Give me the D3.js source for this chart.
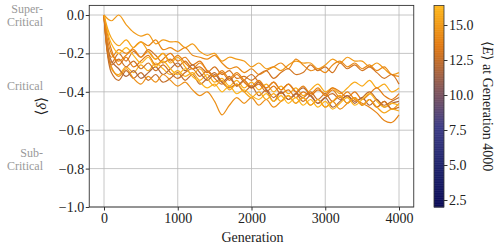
<!DOCTYPE html>
<html>
<head>
<meta charset="utf-8">
<script src="https://cdn.jsdelivr.net/npm/d3@7"></script>
<style>
  body { margin: 0; background: white; }
  text { font-family: "Liberation Serif", "DejaVu Serif", serif; }
</style>
</head>
<body>
<div id="chart"></div>
<script>
// Chart size
const width = 501;
const height = 250;

// generations sampled every 100
const generations = d3.range(0, 4001, 100);

// <delta> per run
const run1 = [0, -0.03, 0.0, -0.05, -0.09, -0.11, -0.10, -0.15, -0.13, -0.14, -0.14, -0.17, -0.15, -0.19, -0.21, -0.20, -0.24, -0.22, -0.23, -0.24, -0.27, -0.25, -0.28, -0.27, -0.29, -0.26, -0.24, -0.25, -0.25, -0.28, -0.26, -0.23, -0.25, -0.22, -0.24, -0.24, -0.27, -0.25, -0.28, -0.31, -0.30];
const run2 = [0, -0.22, -0.18, -0.20, -0.17, -0.14, -0.16, -0.13, -0.18, -0.17, -0.19, -0.17, -0.21, -0.22, -0.23, -0.21, -0.25, -0.28, -0.27, -0.30, -0.28, -0.31, -0.29, -0.27, -0.25, -0.28, -0.23, -0.26, -0.29, -0.28, -0.30, -0.26, -0.24, -0.27, -0.25, -0.28, -0.26, -0.29, -0.27, -0.31, -0.32];
const run3 = [0, -0.25, -0.20, -0.24, -0.19, -0.22, -0.18, -0.21, -0.25, -0.23, -0.27, -0.24, -0.28, -0.27, -0.30, -0.27, -0.31, -0.29, -0.33, -0.32, -0.34, -0.31, -0.29, -0.33, -0.30, -0.28, -0.31, -0.30, -0.26, -0.29, -0.27, -0.30, -0.25, -0.28, -0.26, -0.29, -0.27, -0.30, -0.33, -0.31, -0.36];
const run4 = [0, -0.28, -0.31, -0.27, -0.30, -0.26, -0.29, -0.25, -0.28, -0.31, -0.29, -0.32, -0.30, -0.34, -0.31, -0.35, -0.33, -0.37, -0.34, -0.38, -0.35, -0.39, -0.36, -0.40, -0.37, -0.41, -0.38, -0.42, -0.39, -0.36, -0.40, -0.38, -0.41, -0.38, -0.35, -0.37, -0.34, -0.38, -0.36, -0.40, -0.38];
const run5 = [0, -0.18, -0.26, -0.22, -0.27, -0.24, -0.21, -0.26, -0.23, -0.20, -0.24, -0.22, -0.26, -0.24, -0.29, -0.32, -0.30, -0.34, -0.31, -0.35, -0.38, -0.36, -0.40, -0.37, -0.41, -0.39, -0.43, -0.40, -0.42, -0.39, -0.41, -0.38, -0.40, -0.43, -0.40, -0.44, -0.41, -0.38, -0.42, -0.44, -0.41];
const run6 = [0, -0.30, -0.34, -0.29, -0.33, -0.30, -0.34, -0.31, -0.35, -0.33, -0.30, -0.34, -0.31, -0.36, -0.33, -0.30, -0.35, -0.38, -0.36, -0.40, -0.37, -0.42, -0.39, -0.43, -0.40, -0.44, -0.41, -0.45, -0.42, -0.46, -0.43, -0.41, -0.44, -0.42, -0.45, -0.43, -0.40, -0.44, -0.47, -0.45, -0.43];
const run7 = [0, -0.24, -0.28, -0.32, -0.29, -0.33, -0.30, -0.27, -0.31, -0.28, -0.25, -0.29, -0.26, -0.30, -0.34, -0.31, -0.35, -0.32, -0.37, -0.34, -0.38, -0.35, -0.39, -0.45, -0.40, -0.44, -0.41, -0.38, -0.42, -0.46, -0.43, -0.48, -0.45, -0.42, -0.46, -0.43, -0.47, -0.44, -0.48, -0.46, -0.45];
const run8 = [0, -0.27, -0.32, -0.28, -0.33, -0.36, -0.32, -0.35, -0.31, -0.34, -0.37, -0.35, -0.39, -0.42, -0.40, -0.45, -0.52, -0.47, -0.43, -0.46, -0.43, -0.47, -0.44, -0.48, -0.45, -0.42, -0.46, -0.43, -0.47, -0.44, -0.48, -0.45, -0.49, -0.46, -0.43, -0.47, -0.44, -0.48, -0.45, -0.49, -0.46];
const run9 = [0, -0.15, -0.20, -0.17, -0.21, -0.25, -0.22, -0.27, -0.24, -0.28, -0.31, -0.28, -0.32, -0.35, -0.38, -0.36, -0.40, -0.37, -0.41, -0.39, -0.42, -0.44, -0.41, -0.45, -0.42, -0.46, -0.43, -0.47, -0.44, -0.48, -0.45, -0.49, -0.46, -0.43, -0.47, -0.44, -0.41, -0.45, -0.48, -0.46, -0.47];
const run10 = [0, -0.26, -0.23, -0.27, -0.24, -0.28, -0.25, -0.29, -0.26, -0.30, -0.33, -0.30, -0.28, -0.32, -0.29, -0.33, -0.36, -0.33, -0.37, -0.34, -0.31, -0.35, -0.38, -0.35, -0.39, -0.36, -0.40, -0.43, -0.40, -0.44, -0.41, -0.45, -0.42, -0.46, -0.43, -0.47, -0.44, -0.48, -0.45, -0.49, -0.48];
const run11 = [0, -0.20, -0.24, -0.21, -0.18, -0.22, -0.19, -0.23, -0.20, -0.24, -0.21, -0.25, -0.28, -0.25, -0.29, -0.32, -0.29, -0.33, -0.30, -0.34, -0.37, -0.34, -0.38, -0.35, -0.39, -0.36, -0.40, -0.37, -0.41, -0.38, -0.42, -0.39, -0.43, -0.40, -0.44, -0.46, -0.48, -0.51, -0.55, -0.56, -0.52];
const run12 = [0, -0.12, -0.16, -0.13, -0.17, -0.14, -0.19, -0.23, -0.20, -0.25, -0.22, -0.27, -0.31, -0.28, -0.33, -0.37, -0.34, -0.39, -0.36, -0.40, -0.43, -0.40, -0.44, -0.41, -0.45, -0.42, -0.46, -0.43, -0.47, -0.44, -0.48, -0.45, -0.42, -0.46, -0.43, -0.47, -0.44, -0.48, -0.51, -0.49, -0.50];
const runs = [run1, run2, run3, run4, run5, run6, run7, run8, run9, run10, run11, run12];

// <E> at generation 4000, one per run (sets the colour)
const finalE = [15.0, 14.2, 13.0, 15.8, 13.5, 12.5, 11.8, 14.5, 16.2, 12.8, 14.0, 15.5];

// tick labels
const xTicks = [0, 1000, 2000, 3000, 4000];
const yTicks = [0.0, -0.2, -0.4, -0.6, -0.8, -1.0];
const cbTicks = [2.5, 5.0, 7.5, 10.0, 12.5, 15.0];
const regimeLabels = [
  { lines: ["Super-", "Critical"], at: 0.0 },
  { lines: ["Critical"], at: -0.37 },
  { lines: ["Sub-", "Critical"], at: -0.75 }
];

const margin = { left: 89.25, right: 413.75, top: 5.4, bottom: 207 };
const cbar = { left: 434, right: 444 };
const textColor = "#222";

// colormap: navy -> purple -> orange -> gold
const cmapDomain = [2.0, 16.4];
const colorStops = ["#0b0b58", "#1f246c", "#3e3d86", "#8a5a57", "#e27a14", "#ffb81c"];
const colorScale = d3.scaleLinear()
  .domain(d3.range(colorStops.length).map(i => cmapDomain[0] + i * (cmapDomain[1] - cmapDomain[0]) / (colorStops.length - 1)))
  .range(colorStops)
  .interpolate(d3.interpolateRgb);

const x = d3.scaleLinear().domain([-200, 4200]).range([margin.left, margin.right]);
const y = d3.scaleLinear().domain([-1.0, 0.05]).range([margin.bottom, margin.top]);
const cy = d3.scaleLinear().domain(cmapDomain).range([margin.bottom, margin.top]);

const svg = d3.select("#chart").append("svg").attr("width", width).attr("height", height);

// grid
const grid = svg.append("g").attr("stroke", "#b8b8b8").attr("stroke-width", 0.8);
xTicks.forEach(t => grid.append("line").attr("x1", x(t)).attr("x2", x(t)).attr("y1", margin.top).attr("y2", margin.bottom));
yTicks.forEach(t => grid.append("line").attr("x1", margin.left).attr("x2", margin.right).attr("y1", y(t)).attr("y2", y(t)));

// lines
const line = d3.line().x((d, i) => x(generations[i])).y(d => y(d)).curve(d3.curveCatmullRom.alpha(0.5));
svg.append("g").selectAll("path")
  .data(runs)
  .enter().append("path")
  .attr("d", line)
  .attr("fill", "none")
  .attr("stroke", (d, i) => colorScale(finalE[i]))
  .attr("stroke-width", 1.2)
  .attr("stroke-linejoin", "round");

// frame
svg.append("rect")
  .attr("x", margin.left).attr("y", margin.top)
  .attr("width", margin.right - margin.left).attr("height", margin.bottom - margin.top)
  .attr("fill", "none").attr("stroke", "#333").attr("stroke-width", 0.9);

const fmt = v => (v < 0 ? "\u2212" : "") + Math.abs(v).toFixed(1);

// x axis
const xAxis = svg.append("g")
  .attr("transform", `translate(0,${margin.bottom})`)
  .call(d3.axisBottom(x).tickValues(xTicks).tickSize(3.5).tickFormat(d3.format("d")));
xAxis.select(".domain").remove();
xAxis.selectAll("line").attr("stroke", "#333");
xAxis.selectAll("text").attr("font-size", 14).attr("fill", textColor).attr("dy", "0.78em").attr("y", 5);

// y axis
const yAxis = svg.append("g")
  .attr("transform", `translate(${margin.left},0)`)
  .call(d3.axisLeft(y).tickValues(yTicks).tickSize(3.5).tickFormat(fmt));
yAxis.select(".domain").remove();
yAxis.selectAll("line").attr("stroke", "#333");
yAxis.selectAll("text").attr("font-size", 14).attr("fill", textColor).attr("x", -5);

svg.append("text")
  .attr("x", (margin.left + margin.right) / 2 + 1).attr("y", 242)
  .attr("text-anchor", "middle").attr("font-size", 14).attr("fill", textColor)
  .text("Generation");

svg.append("text")
  .attr("transform", `translate(46,${(margin.top + margin.bottom) / 2}) rotate(-90)`)
  .attr("text-anchor", "middle").attr("font-size", 15).attr("fill", textColor)
  .html("\u27E8<tspan font-style='italic'>\u03B4</tspan>\u27E9");

// regime labels on the far left
regimeLabels.forEach(r => {
  const t = svg.append("text")
    .attr("text-anchor", "end").attr("font-size", 12).attr("fill", "#999");
  r.lines.forEach((s, i) => {
    t.append("tspan").attr("x", 43)
      .attr("y", y(r.at) + (i - (r.lines.length - 1) / 2) * 13 + 4)
      .text(s);
  });
});

// colorbar
const steps = d3.range(cmapDomain[0], cmapDomain[1], 0.05);
svg.append("g").selectAll("rect")
  .data(steps)
  .enter().append("rect")
  .attr("x", cbar.left).attr("width", cbar.right - cbar.left)
  .attr("y", d => cy(Math.min(d + 0.05, cmapDomain[1])))
  .attr("height", d => cy(d) - cy(Math.min(d + 0.05, cmapDomain[1])) + 0.5)
  .attr("fill", d => colorScale(d + 0.025));
svg.append("rect")
  .attr("x", cbar.left).attr("y", margin.top)
  .attr("width", cbar.right - cbar.left).attr("height", margin.bottom - margin.top)
  .attr("fill", "none").attr("stroke", "#333").attr("stroke-width", 0.8);

const cAxis = svg.append("g")
  .attr("transform", `translate(${cbar.right},0)`)
  .call(d3.axisRight(cy).tickValues(cbTicks).tickSize(3.5).tickFormat(d3.format(".1f")));
cAxis.select(".domain").remove();
cAxis.selectAll("line").attr("stroke", "#333");
cAxis.selectAll("text").attr("font-size", 14).attr("fill", textColor).attr("x", 5);

svg.append("text")
  .attr("transform", `translate(483,${(margin.top + margin.bottom) / 2}) rotate(90)`)
  .attr("text-anchor", "middle").attr("font-size", 14).attr("fill", textColor)
  .html("\u27E8<tspan font-style='italic'>E</tspan>\u27E9 at Generation 4000");
</script>
</body>
</html>
